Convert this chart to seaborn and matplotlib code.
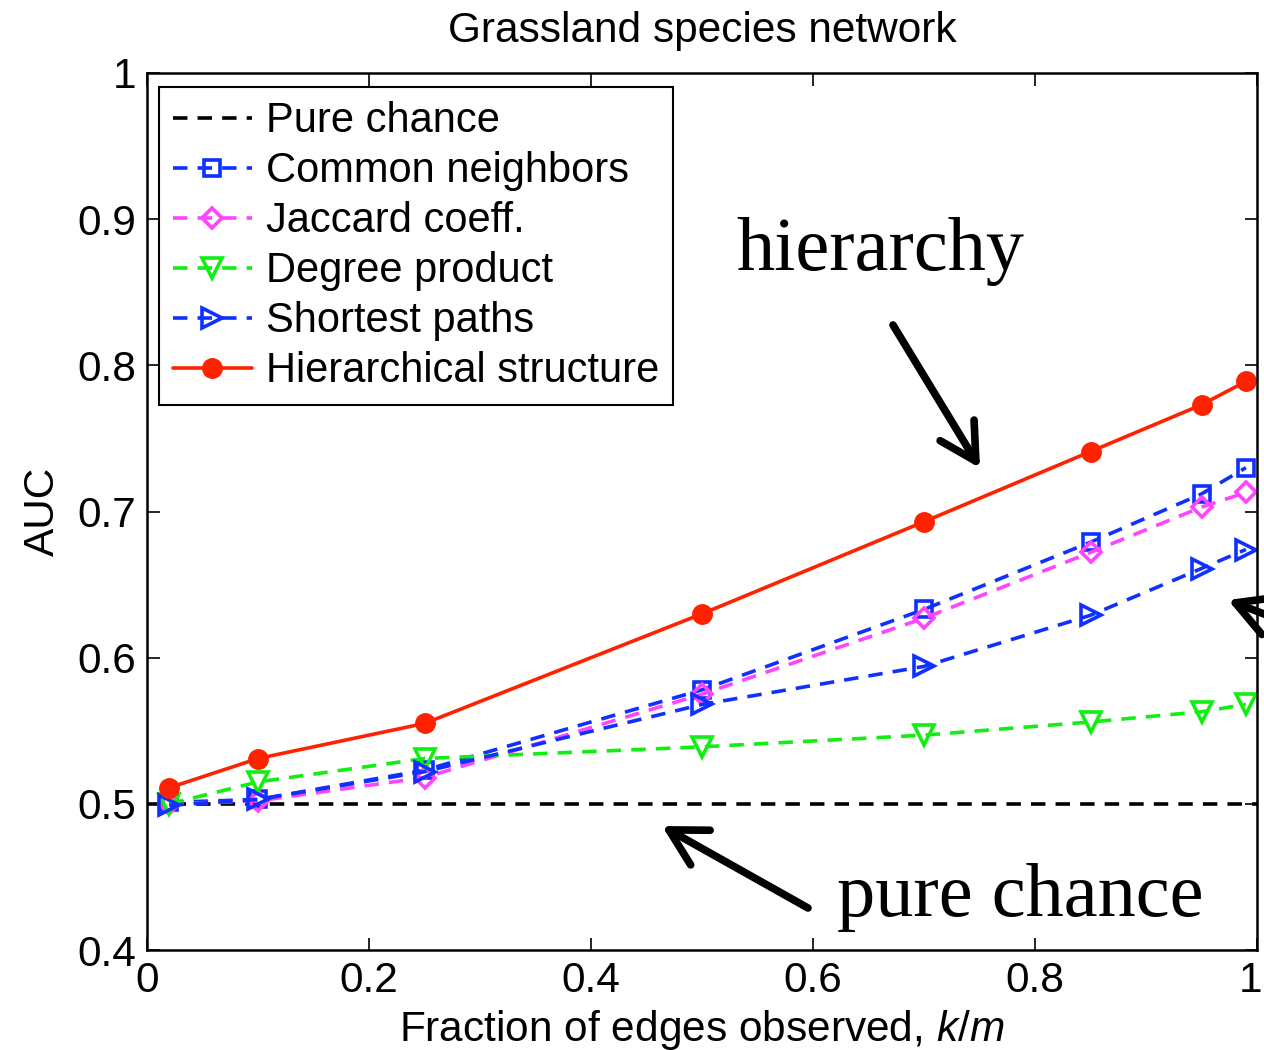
import matplotlib
matplotlib.use("Agg")
import matplotlib.pyplot as plt
import matplotlib.transforms as mtransforms
import seaborn as sns
import numpy as np
import pandas as pd

# ---- data ----
frac = [0.02, 0.10, 0.25, 0.50, 0.70, 0.85, 0.95, 0.99]
chance_x = [0.0, 1.0]
chance_y = [0.5, 0.5]
common_neighbors = [0.501, 0.503, 0.523, 0.578, 0.633, 0.679, 0.712, 0.730]
jaccard = [0.500, 0.502, 0.518, 0.575, 0.627, 0.672, 0.703, 0.713]
degree_product = [0.500, 0.515, 0.531, 0.539, 0.547, 0.556, 0.563, 0.568]
shortest_paths = [0.499, 0.503, 0.522, 0.568, 0.594, 0.629, 0.661, 0.674]
hierarchical = [0.511, 0.531, 0.555, 0.630, 0.693, 0.741, 0.773, 0.789]
xticks = [0, 0.2, 0.4, 0.6, 0.8, 1]
xticklabels = ["0", "0.2", "0.4", "0.6", "0.8", "1"]
yticks = [0.4, 0.5, 0.6, 0.7, 0.8, 0.9, 1.0]
yticklabels = ["0.4", "0.5", "0.6", "0.7", "0.8", "0.9", "1"]

sns.set_style("ticks")
plt.rcParams["font.family"] = ["Liberation Sans", "DejaVu Sans"]
plt.rcParams["mathtext.fontset"] = "custom"
plt.rcParams["mathtext.it"] = "Liberation Sans:italic"
plt.rcParams["mathtext.rm"] = "Liberation Sans"
plt.rcParams["text.color"] = "black"
plt.rcParams["axes.labelcolor"] = "black"

fig = plt.figure(figsize=(12.64, 10.5), dpi=100)
ax = fig.add_axes([147/1264, 100/1050, 1110/1264, 877/1050])

lw = 2.6
dash = (0, (4.0, 2.8))
mew = 2.6
FS = 30.5

sns.lineplot(x=chance_x, y=chance_y, ax=ax, color="black", linewidth=lw,
             linestyle=dash, label="Pure chance")
sns.lineplot(x=frac, y=common_neighbors, ax=ax, color="#1030ff", linewidth=lw,
             linestyle=dash, marker="s", markersize=11, markerfacecolor="none",
             markeredgecolor="#1030ff", markeredgewidth=mew, label="Common neighbors")
sns.lineplot(x=frac, y=jaccard, ax=ax, color="#ff44ff", linewidth=lw,
             linestyle=dash, marker="D", markersize=10, markerfacecolor="none",
             markeredgecolor="#ff44ff", markeredgewidth=mew, label="Jaccard coeff.")
sns.lineplot(x=frac, y=degree_product, ax=ax, color="#11ee11", linewidth=lw,
             linestyle=dash, marker="v", markersize=14, markerfacecolor="none",
             markeredgecolor="#11ee11", markeredgewidth=mew, label="Degree product")
sns.lineplot(x=frac, y=shortest_paths, ax=ax, color="#1030ff", linewidth=lw,
             linestyle=dash, marker=">", markersize=14, markerfacecolor="none",
             markeredgecolor="#1030ff", markeredgewidth=mew, label="Shortest paths")
sns.lineplot(x=frac, y=hierarchical, ax=ax, color="#ff2200", linewidth=lw,
             linestyle="-", marker="o", markersize=14, markerfacecolor="#ff2200",
             markeredgecolor="#ff2200", markeredgewidth=1, label="Hierarchical structure")

ax.set_xlim(0, 1)
ax.set_ylim(0.4, 1.0)
ax.set_xticks(xticks)
ax.set_xticklabels(xticklabels)
ax.set_yticks(yticks)
ax.set_yticklabels(yticklabels)
ax.tick_params(direction="in", top=True, right=True, labelsize=FS, length=9,
               width=1.2, pad=8, colors="black")
for s in ax.spines.values():
    s.set_visible(True)
    s.set_linewidth(1.8)
    s.set_color("black")

# nudge the last x tick label so it stays inside the canvas
last = ax.get_xticklabels()[-1]
last.set_transform(last.get_transform() +
                   mtransforms.ScaledTranslation(-6/100, 0, fig.dpi_scale_trans))

ax.set_title("Grassland species network", fontsize=FS, pad=22)
ax.set_xlabel("Fraction of edges observed, $k/m$", fontsize=FS, labelpad=5)
ax.set_ylabel("AUC", fontsize=FS, labelpad=10)

leg = ax.legend(loc="upper left", bbox_to_anchor=(0.0105, 0.984), fontsize=30,
                handlelength=1.9, handletextpad=0.33, labelspacing=0.24,
                borderpad=0.34, borderaxespad=0, fancybox=False, framealpha=1,
                edgecolor="black")
leg.get_frame().set_linewidth(1.5)

# annotations
serif = ["Liberation Serif", "DejaVu Serif"]
ax.text(880/1264, 1 - 252/1050, "hierarchy", transform=fig.transFigure,
        fontsize=55, family=serif, ha="center", va="center")
ax.text(1020/1264, 1 - 897/1050, "pure chance", transform=fig.transFigure,
        fontsize=55, family=serif, ha="center", va="center")

def arrow(tip, tail):
    ax.annotate("", xy=(tip[0]/1264, 1 - tip[1]/1050),
                xytext=(tail[0]/1264, 1 - tail[1]/1050),
                xycoords="figure fraction", textcoords="figure fraction",
                arrowprops=dict(arrowstyle="->,head_length=1.0,head_width=0.55",
                                mutation_scale=26, lw=5.5, color="black",
                                shrinkA=0, shrinkB=0),
                annotation_clip=False)

arrow((980, 468), (893, 325))
arrow((662, 826), (808, 908))
arrow((1228, 600), (1300, 628))

fig.savefig("out.png", dpi=100)
